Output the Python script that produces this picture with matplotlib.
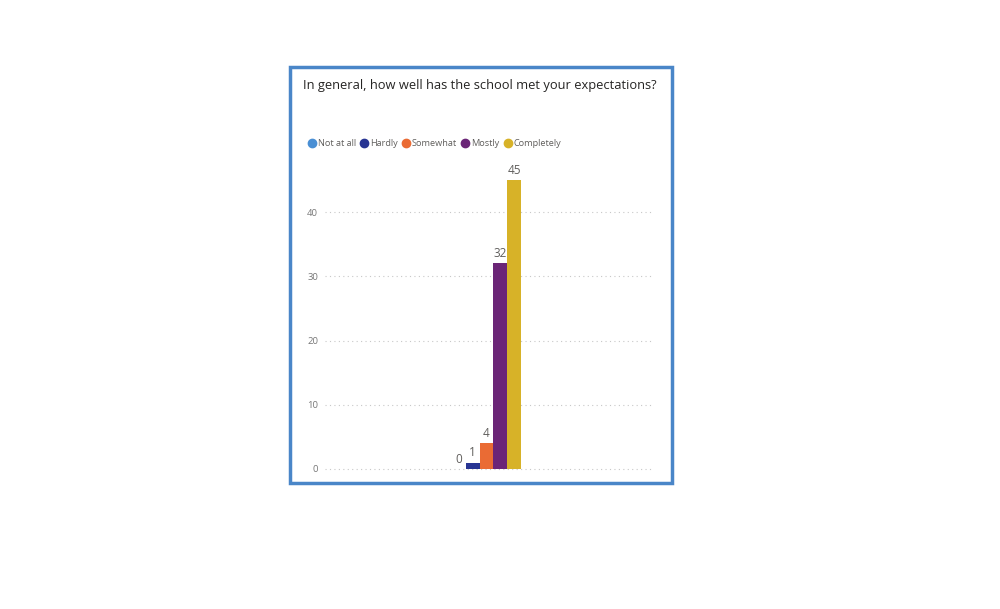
import matplotlib.pyplot as plt
from matplotlib.lines import Line2D
from matplotlib.patches import Rectangle

plt.rcParams['font.family'] = ['Open Sans', 'DejaVu Sans']

title = 'In general, how well has the school met your expectations?'
answers = ['Not at all', 'Hardly', 'Somewhat', 'Mostly', 'Completely']
counts = [0, 1, 4, 32, 45]
colors = ['#4a8fd4', '#283593', '#ea6b34', '#6b2577', '#d7b228']
yticks = [0, 10, 20, 30, 40]

fig = plt.figure(figsize=(10, 6.09), dpi=100)

# blue frame around the visual
fig.add_artist(Rectangle((0.2895, 1 - 483 / 609), (672 - 289.5) / 1000, (483 - 67) / 609,
                         transform=fig.transFigure, fill=False, ec='#4a86c8', lw=2.5))

fig.text(0.303, 1 - 85.5 / 609, title, fontsize=9.3, color='#252423', va='center')

ax = fig.add_axes([0.325, 1 - 469 / 609, 0.327, (469 - 180) / 609])
w = 0.0422
offs = [(i - 2) * w for i in range(5)]
bars = ax.bar(offs, counts, width=w, color=colors, zorder=3)
for x, v in zip(offs, counts):
    ax.text(x, v + 0.5, str(v), ha='center', va='bottom', fontsize=8.5, color='#605e5c')

ax.set_xlim(-0.494, 0.506)
ax.set_ylim(0, 45)
ax.set_yticks(yticks)
ax.tick_params(axis='y', length=0, labelsize=6.8, labelcolor='#777777', pad=5)
ax.set_xticks([])
for t in yticks:
    ax.axhline(t, color='#c8c8c8', linestyle=(0, (1, 3)), lw=0.8, clip_on=False, zorder=1)
for s in ax.spines.values():
    s.set_visible(False)

handles = [Line2D([], [], marker='o', ls='', color=c, markersize=6) for c in colors]
fig.legend(handles, answers, loc='center left', bbox_to_anchor=(0.309, 1 - 143.5 / 609),
           ncol=5, frameon=False, fontsize=6.6, handletextpad=0.35, handlelength=0.6,
           columnspacing=0.6, borderaxespad=0, borderpad=0, labelcolor='#605e5c')

fig.savefig('out.png')
